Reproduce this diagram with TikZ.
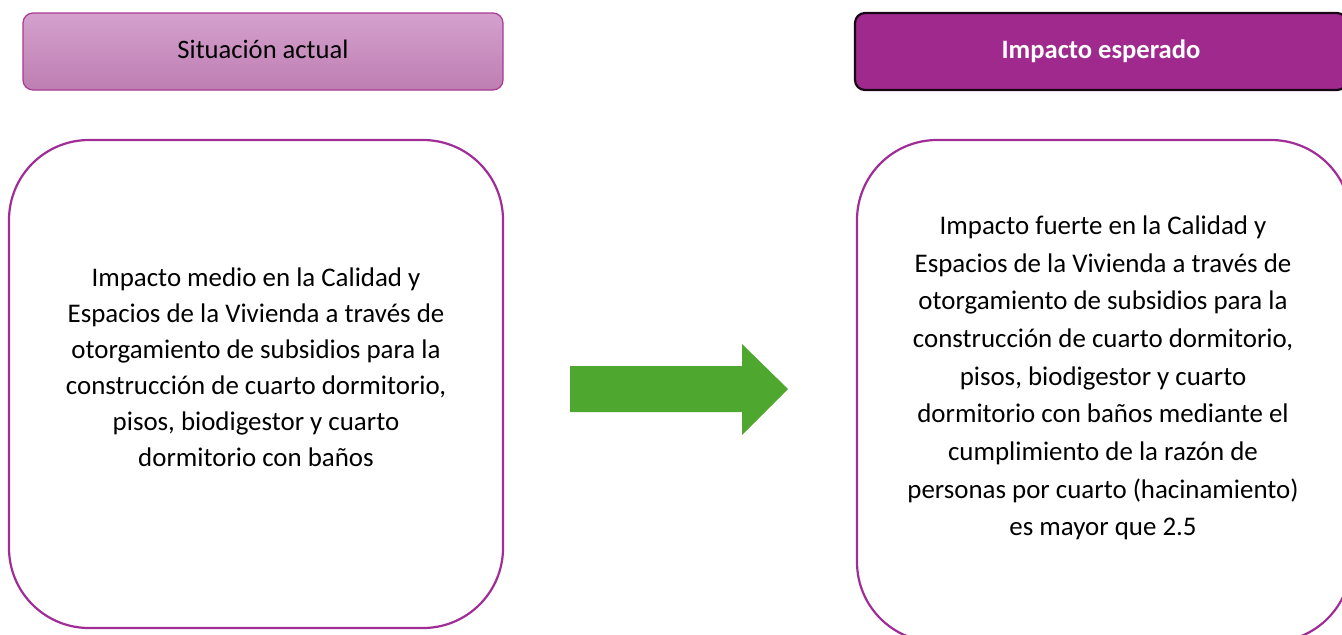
\documentclass[tikz,border=0pt]{standalone}
\usepackage{fontspec}
\setmainfont{Carlito}
\definecolor{moradoclaro}{RGB}{212,161,205}
\definecolor{moradomedio}{RGB}{190,126,178}
\definecolor{moradoborde}{RGB}{168,58,150}
\definecolor{moradofuerte}{RGB}{160,41,142}
\definecolor{bordecaja}{RGB}{160,45,150}
\definecolor{verdeflecha}{RGB}{78,167,46}
\begin{document}
\begin{tikzpicture}[x=0.5pt,y=-0.5pt,
    encabezado/.style={rectangle,rounded corners=5pt,minimum width=240pt,
        minimum height=38.5pt,inner sep=0pt},
    texto/.style={align=center,inner sep=0pt}]
    \tikzstyle{cuadro}=[rectangle,draw=bordecaja,line width=1.1pt,
        rounded corners=40pt,minimum width=247pt,minimum height=244pt,inner sep=0pt]

    \useasboundingbox (0,0) rectangle (1342,634);

    % encabezados
    \node[encabezado,draw=moradoborde,line width=0.6pt,top color=moradoclaro,
        bottom color=moradomedio] (sitactual) at (263,51.5)
        {\raisebox{2pt}{\fontsize{13.3}{16}\selectfont Situación actual}};
    \node[encabezado,minimum width=246pt,fill=moradofuerte,draw=black!85!moradofuerte,
        line width=1.1pt] (impesperado) at (1101,51.5)
        {\raisebox{2.5pt}{\fontsize{13.3}{16}\selectfont\bfseries\color{white}Impacto esperado}};

    % cuadros
    \node[cuadro] (actual) at (256,384) {};
    \node[cuadro,minimum height=251pt] (esperado) at (1104,391) {};

    \node[texto,font=\fontsize{13.45}{18}\selectfont] (txtactual) at (256,367)
        {Impacto medio en la Calidad y\\
         Espacios de la Vivienda a través de\\
         otorgamiento de subsidios para la\\
         construcción de cuarto dormitorio,\\
         pisos, biodigestor y cuarto\\
         dormitorio con baños};
    \node[texto,font=\fontsize{13.45}{18.85}\selectfont] (txtesperado) at (1103,378)
        {Impacto fuerte en la Calidad y\\
         Espacios de la Vivienda a través de\\
         otorgamiento de subsidios para la\\
         construcción de cuarto dormitorio,\\
         pisos, biodigestor y cuarto\\
         dormitorio con baños mediante el\\
         cumplimiento de la razón de\\
         personas por cuarto (hacinamiento)\\
         es mayor que 2.5};

    % flecha
    \fill[verdeflecha] (570,366) -- (742,366) -- (742,344) -- (788,389)
        -- (742,435) -- (742,412) -- (570,412) -- cycle;

  \end{tikzpicture}
\end{document}
